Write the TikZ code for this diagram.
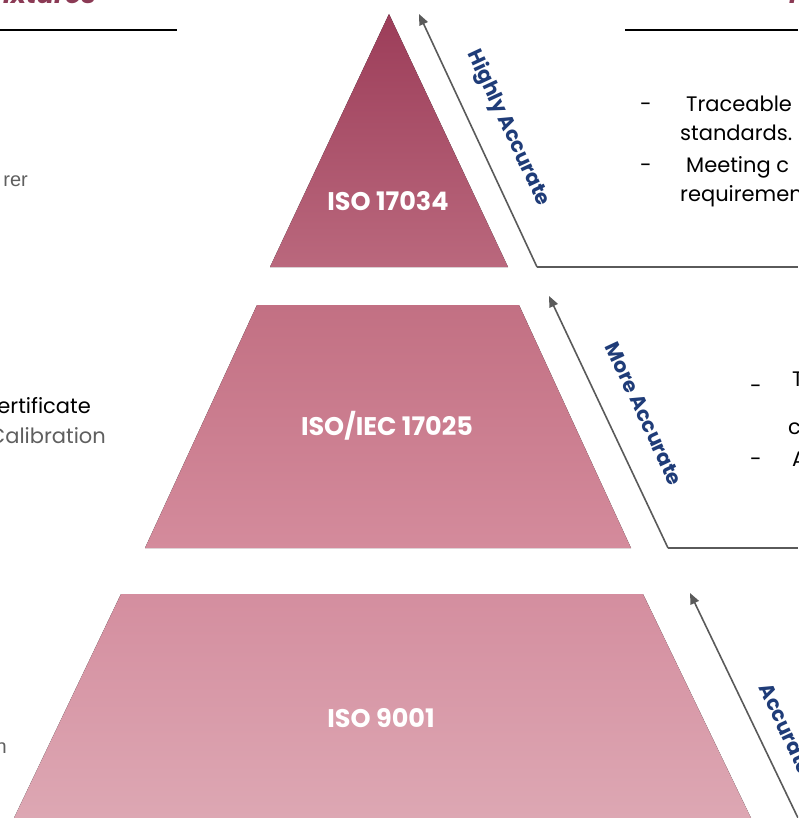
\documentclass[tikz,border=0pt]{standalone}
\usepackage{fontspec}
\setmainfont{Poppins}
\newfontfamily\leftfont{Liberation Sans}
\usetikzlibrary{arrows.meta}
\definecolor{topA}{HTML}{9C3D59}
\definecolor{topB}{HTML}{BA687D}
\definecolor{midA}{HTML}{C27083}
\definecolor{midB}{HTML}{D48B9C}
\definecolor{botA}{HTML}{D48E9F}
\definecolor{botB}{HTML}{DDA7B3}
\definecolor{arrgray}{HTML}{5A5A5A}
\definecolor{accblue}{HTML}{1F3C78}
\definecolor{headred}{HTML}{8B3A55}
\definecolor{txtgray}{HTML}{5F5F5F}
\tikzset{
  lvl/.style={text=white,font=\bfseries\fontsize{25.5}{28}\selectfont,inner sep=0pt},
  arr/.style={draw=arrgray,line width=1.6pt,-{Triangle[width=9pt,length=11pt]}},
  conn/.style={draw=arrgray,line width=1.6pt},
  acc/.style={text=accblue,font=\bfseries\fontsize{20.5}{23}\selectfont,inner sep=0pt},
  body/.style={text=black,font=\fontsize{21}{24}\selectfont,inner sep=0pt,anchor=base west},
  lbody/.style={font=\leftfont\fontsize{20}{23}\selectfont,inner sep=0pt},
  rule/.style={draw=black,line width=1.3pt},
  head/.style={text=headred,font=\bfseries\itshape\fontsize{26}{30}\selectfont,inner sep=0pt}
}
\begin{document}
\begin{tikzpicture}[x=1pt,y=-1pt]
\useasboundingbox (0,0) rectangle (798,818);
\clip (0,0) rectangle (798,818);
% header pieces
\node[head,anchor=base east] (hl) at (96,4) {ixtures};
\node[head,anchor=base west] (hr) at (789,4) {F};
\coordinate (rl1) at (0,30); \coordinate (rl2) at (177,30);
\coordinate (rr1) at (625,30); \coordinate (rr2) at (798,30);
\draw[rule] (rl1) -- (rl2);
\draw[rule] (rr1) -- (rr2);
% pyramid levels
\fill[top color=topA,bottom color=topB] (389,14) -- (508,267) -- (270,267) -- cycle;
\fill[top color=midA,bottom color=midB] (257,305) -- (519,305) -- (631,548) -- (145,548) -- cycle;
\fill[top color=botA,bottom color=botB] (121,594) -- (643,594) -- (751,818) -- (14,818) -- cycle;
\node[lvl] (l1) at (388,201) {ISO 17034};
\node[lvl] (l2) at (387,426) {ISO/IEC 17025};
\node[lvl] (l3) at (381,718) {ISO 9001};
% arrows
\coordinate (a1s) at (537,267); \coordinate (a1e) at (419,14); \coordinate (a1r) at (798,267);
\coordinate (a2s) at (668,548); \coordinate (a2e) at (549,296); \coordinate (a2r) at (798,548);
\coordinate (a3s) at (798,818); \coordinate (a3e) at (690,593);
\draw[arr] (a1s) -- (a1e);
\draw[conn] (a1s) -- (a1r);
\draw[arr] (a2s) -- (a2e);
\draw[conn] (a2s) -- (a2r);
\draw[arr] (a3s) -- (a3e);
\node[acc,rotate=-65] (h1) at (508,128) {Highly Accurate};
\node[acc,rotate=-65] (h2) at (644,414) {More Accurate};
\node[acc,rotate=-65] (h3) at (786,729) {Accurate};
% right texts
\node[body] (d1) at (640,112) {-};
\node[body] (r1) at (686,112) {Traceable};
\node[body] (r2) at (680,141) {standards.};
\node[body] (d2) at (640,173) {-};
\node[body] (r3) at (686,173) {Meeting c};
\node[body] (r4) at (680,202) {requiremen};
\node[body] (d3) at (750,393) {-};
\node[body] (m1) at (792,386) {T};
\node[body] (m2) at (788,434) {c};
\node[body] (d4) at (750,466) {-};
\node[body] (m3) at (792,466) {A};
% left texts
\node[lbody,text=txtgray,anchor=base east] (e1) at (28,187) {rer};
\node[body,anchor=base east] (e2) at (91,413) {ertificate};
\node[body,text=txtgray,anchor=base east] (e3) at (106,443) {Calibration};
\node[lbody,text=txtgray,anchor=base east] (e4) at (7,753) {n};
\end{tikzpicture}
\end{document}
